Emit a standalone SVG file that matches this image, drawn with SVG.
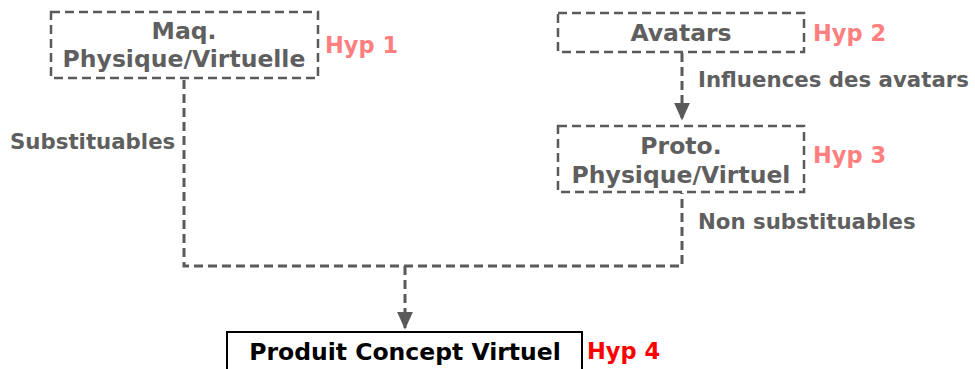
<svg xmlns="http://www.w3.org/2000/svg" width="975" height="369" viewBox="0 0 975 369">
<style>
.box{fill:#fff;stroke:#5a5a5a;stroke-width:2.5;stroke-dasharray:9 5}
.ln{fill:none;stroke:#5a5a5a;stroke-width:3;stroke-dasharray:9 5}
.t{font-family:"DejaVu Sans",Verdana,sans-serif;font-weight:bold;font-size:23.5px;fill:#5f5f5f}
.e{font-family:"DejaVu Sans",Verdana,sans-serif;font-weight:bold;font-size:21.3px;fill:#5f5f5f}
.h{font-family:"DejaVu Sans",Verdana,sans-serif;font-weight:bold;font-size:22.5px;fill:#ff7f7f}
.c{text-anchor:middle}
</style>
<defs>
<marker id="arr" markerWidth="6" markerHeight="6" refX="5.5" refY="3" orient="auto" markerUnits="strokeWidth">
<path d="M0,0.3 L6,3 L0,5.7 z" fill="#5a5a5a"/>
</marker>
</defs>
<g id="connectors">
<path class="ln" d="M682,53 V119" marker-end="url(#arr)"/>
<path class="ln" d="M184,80 V266 H682 V193"/>
<path class="ln" d="M405,266 V328" marker-end="url(#arr)"/>
<text class="e" x="698" y="87">Influences des avatars</text>
<text class="e" x="10" y="149">Substituables</text>
<text class="e" x="698" y="229">Non substituables</text>
</g>
<g id="maq">
<rect class="box" x="51" y="12" width="267" height="66"/>
<text class="t c" x="184" y="39">Maq.</text>
<text class="t c" x="184" y="67">Physique/Virtuelle</text>
<text class="h" x="325" y="53">Hyp 1</text>
</g>
<g id="avatars">
<rect class="box" x="558" y="13" width="246" height="39"/>
<text class="t c" x="681" y="41">Avatars</text>
<text class="h" x="813" y="41">Hyp 2</text>
</g>
<g id="proto">
<rect class="box" x="558" y="126" width="246" height="66"/>
<text class="t c" x="681" y="154">Proto.</text>
<text class="t c" x="681" y="183">Physique/Virtuel</text>
<text class="h" x="813" y="163">Hyp 3</text>
</g>
<g id="produit">
<rect x="227" y="332" width="355" height="45" fill="#fff" stroke="#000" stroke-width="2"/>
<text class="t c" x="405" y="360" style="fill:#000">Produit Concept Virtuel</text>
<text class="h" x="587" y="359" style="fill:#ff0000">Hyp 4</text>
</g>
</svg>
